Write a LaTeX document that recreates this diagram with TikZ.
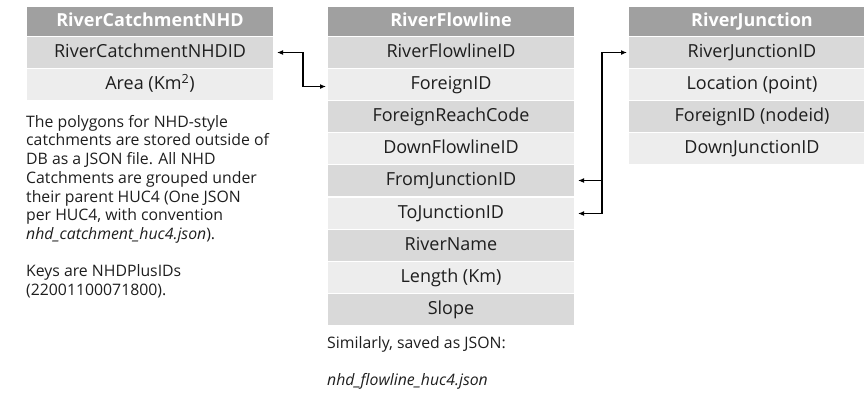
\documentclass[tikz,border=0pt]{standalone}
\usepackage{fontspec}
\setmainfont{Open Sans}
\usetikzlibrary{arrows.meta,calc}

\definecolor{hdrgray}{HTML}{A0A0A0}
\definecolor{rowdark}{HTML}{D9D9D9}
\definecolor{rowlight}{HTML}{EDEDED}
\definecolor{inkgray}{HTML}{1E1E1E}

\tikzset{
  cell/.style={rectangle, inner sep=0pt, minimum width=247pt, minimum height=32pt,
    text height=13pt, text depth=3pt,
    anchor=north west, draw=white, line width=1pt, text=inkgray, font=\fontsize{18}{20}\selectfont},
  hdr/.style={cell, fill=hdrgray, minimum height=30pt, text=white, font=\fontsize{18}{20}\selectfont\bfseries},
  dk/.style={cell, fill=rowdark},
  lt/.style={cell, fill=rowlight},
  note/.style={inner sep=0pt, text=inkgray, align=left,
    font=\fontsize{15.8}{18.7}\selectfont},
  tip/.style={Latex[length=6pt,width=5pt]},
  conn/.style={line width=1.8pt, black, {Latex[length=6pt,width=5pt]}-{Latex[length=6pt,width=5pt]}},
  conn1/.style={line width=1.8pt, black, -{Latex[length=6pt,width=5pt]}}
}

\begin{document}
\begin{tikzpicture}[x=1pt,y=-1pt]
\useasboundingbox (0,0) rectangle (864,392);

% RiverCatchmentNHD table
\node[hdr] (cH) at (26,6) {RiverCatchmentNHD};
\node[dk] (cid) at (26,36) {RiverCatchmentNHDID};
\node[lt] (carea) at (26,68) {Area (Km\textsuperscript{2})};

\node[note, anchor=north west] (cnote) at (26,115) {The polygons for NHD-style\\
catchments are stored outside of\\
DB as a JSON file. All NHD\\
Catchments are grouped under\\
their parent HUC4 (One JSON\\
per HUC4, with convention\\
\textit{nhd\_catchment\_huc4.json}).\\[18.7pt]
Keys are NHDPlusIDs\\
(22001100071800).};

% RiverFlowline table
\node[hdr] (fH) at (327,6) {RiverFlowline};
\node[dk] (fid) at (327,36) {RiverFlowlineID};
\node[lt] (ffid) at (327,68) {ForeignID};
\node[dk] (frc) at (327,100) {ForeignReachCode};
\node[lt] (fdown) at (327,132) {DownFlowlineID};
\node[dk] (ffrom) at (327,164) {FromJunctionID};
\node[lt] (fto) at (327,197) {ToJunctionID};
\node[dk] (fname) at (327,229) {RiverName};
\node[lt] (flen) at (327,261) {Length (Km)};
\node[dk] (fslope) at (327,293) {Slope};

\node[note, anchor=base west] (fnote1) at (327,348) {Similarly, saved as JSON:};
\node[note, anchor=base west] (fnote2) at (327,385) {\textit{nhd\_flowline\_huc4.json}};

% RiverJunction table
\node[hdr] (jH) at (628,6) {RiverJunction};
\node[dk] (jid) at (628,36) {RiverJunctionID};
\node[lt] (jloc) at (628,68) {Location (point)};
\node[dk] (jfid) at (628,100) {ForeignID (nodeid)};
\node[lt] (jdown) at (628,132) {DownJunctionID};

% connectors
\draw[conn, shorten <=3pt, shorten >=1pt] (cid.east) -- ++(29,0) |- ($(ffid.west)+(0,2)$);

\coordinate (jv) at ($(jid.west)+(-26,0)$);
\draw[conn, shorten <=1pt, shorten >=3pt] (jid.west) -- (jv) |- (fto.east);
\draw[conn1, shorten >=3pt] (jv |- ffrom.east) -- (ffrom.east);
\end{tikzpicture}
\end{document}
